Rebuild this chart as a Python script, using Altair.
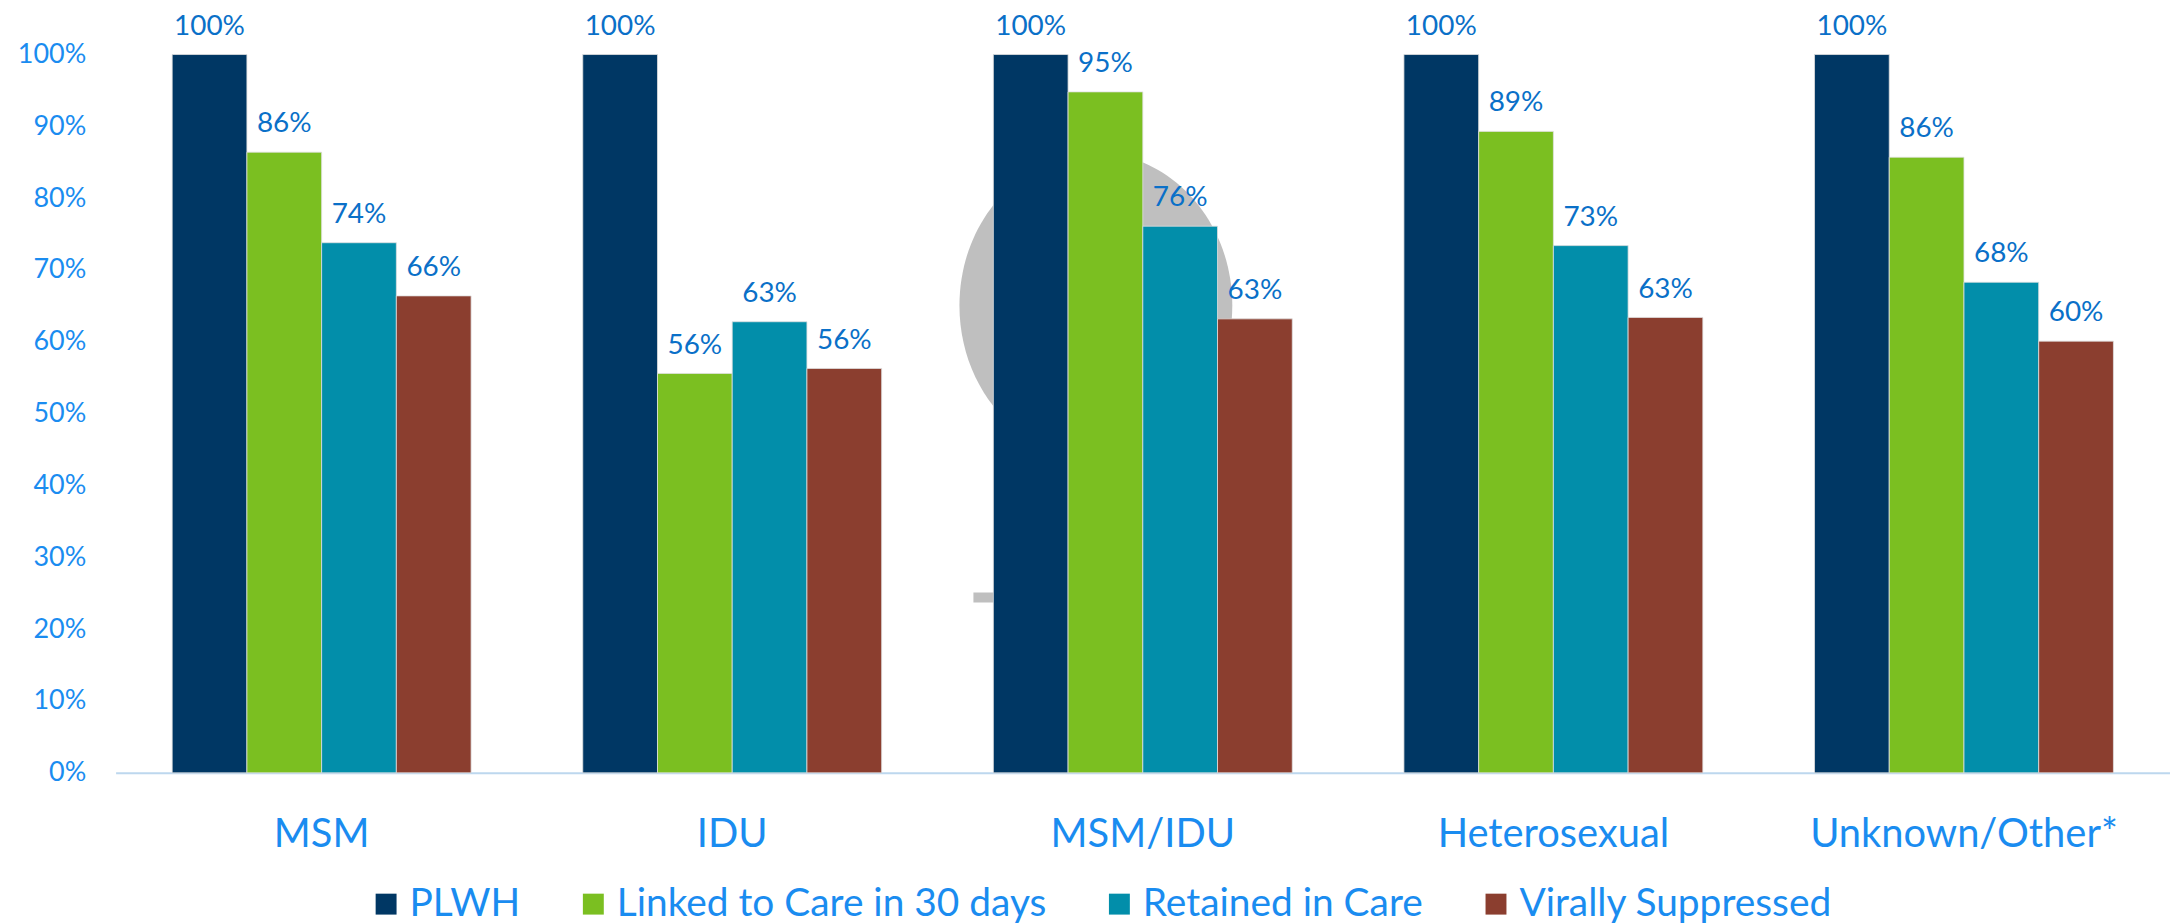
import altair as alt
import pandas as pd

categories = ["MSM", "IDU", "MSM/IDU", "Heterosexual", "Unknown/Other*"]
series = ["PLWH", "Linked to Care in 30 days", "Retained in Care", "Virally Suppressed"]
colors = ["#003764", "#7BBF21", "#028EAA", "#8B3E2F"]

plwh = [1.0, 1.0, 1.0, 1.0, 1.0]
linked = [0.864, 0.556, 0.948, 0.893, 0.857]
retained = [0.738, 0.628, 0.761, 0.734, 0.683]
suppressed = [0.664, 0.563, 0.632, 0.634, 0.601]

y_ticks = [i / 10 for i in range(11)]

rows = []
for s, vals in zip(series, [plwh, linked, retained, suppressed]):
    for c, v in zip(categories, vals):
        rows.append({"cat": c, "series": s, "value": v})
df = pd.DataFrame(rows)

FONT = "Lato"
AXIS_BLUE = "#1A8CF0"
LABEL_BLUE = "#0A70C8"

x_scale = alt.Scale(domain=categories, paddingInner=0.272, paddingOuter=0.1378)
y_scale = alt.Scale(domain=[0, 1])

x_axis = alt.Axis(title=None, labelAngle=0, labelFontSize=40, labelColor=AXIS_BLUE,
                  labelFont=FONT, ticks=False, tickSize=0, labelPadding=42,
                  labelAlign="center", labelLimit=1000, bandPosition=0.5,
                  domainColor="#BDD7EE", domainWidth=2)
y_axis = alt.Axis(title=None, format=".0%", values=y_ticks, grid=False, domain=False,
                  ticks=False, tickSize=0, labelPadding=30, labelFontSize=27,
                  labelColor=AXIS_BLUE, labelFont=FONT)

x_enc = alt.X("cat:N", scale=x_scale, sort=categories, axis=x_axis)
y_enc = alt.Y("value:Q", scale=y_scale, axis=y_axis)
xo_enc = alt.XOffset("series:N", sort=series, scale=alt.Scale(domain=series, paddingInner=0, paddingOuter=0))

# grey watermark shape behind the bars
wm = pd.DataFrame({"cat": ["MSM/IDU"], "value": [0.6505]})
watermark = alt.Chart(wm).mark_point(
    shape="M -0.895 0 A 0.895 1 0 1 0 0.895 0 A 0.895 1 0 1 0 -0.895 0 Z",
    filled=True, color="#BFBFBF", opacity=1, size=93636, strokeWidth=0
).encode(
    x=alt.X("cat:N", scale=x_scale, sort=categories, bandPosition=0.343, axis=x_axis),
    y=alt.Y("value:Q", scale=y_scale, axis=y_axis),
)
wm2 = pd.DataFrame({"cat": ["MSM/IDU"], "value": [0.244]})
watermark2 = alt.Chart(wm2).mark_point(
    shape="M -1 -0.25 L 1 -0.25 L 1 0.25 L -1 0.25 Z",
    filled=True, color="#BFBFBF", opacity=1, size=1600, strokeWidth=0
).encode(
    x=alt.X("cat:N", scale=x_scale, sort=categories, bandPosition=0, axis=x_axis),
    y=alt.Y("value:Q", scale=y_scale, axis=y_axis),
)

bars = alt.Chart(df).mark_bar(stroke="#E0E0E0", strokeWidth=0.8).encode(
    x=x_enc,
    xOffset=xo_enc,
    y=y_enc,
    color=alt.Color("series:N", sort=series,
                    scale=alt.Scale(domain=series, range=colors),
                    legend=alt.Legend(title=None, orient="none", direction="horizontal",
                                      legendX=252, legendY=833, symbolType="square",
                                      symbolSize=441, symbolStrokeWidth=0, labelFontSize=39,
                                      labelFont=FONT, labelColor=AXIS_BLUE, labelOffset=4,
                                      columnPadding=53, labelLimit=1000)),
)

labels = alt.Chart(df).mark_text(
    dy=-20, align="center", baseline="alphabetic", fontSize=28, font=FONT, color=LABEL_BLUE
).encode(
    x=alt.X("cat:N", scale=x_scale, sort=categories),
    xOffset=xo_enc,
    y=alt.Y("value:Q", scale=y_scale),
    text=alt.Text("value:Q", format=".0%"),
)

chart = alt.layer(watermark, watermark2, bars, labels).properties(
    width=2062, height=721,
    autosize=alt.AutoSizeParams(type="none"),
    padding={"left": 108, "top": 45, "right": 0, "bottom": 150},
).configure(background="white", view=alt.ViewConfig(stroke=None))

chart.save("out.html", embed_options={"renderer": "svg", "actions": False})
